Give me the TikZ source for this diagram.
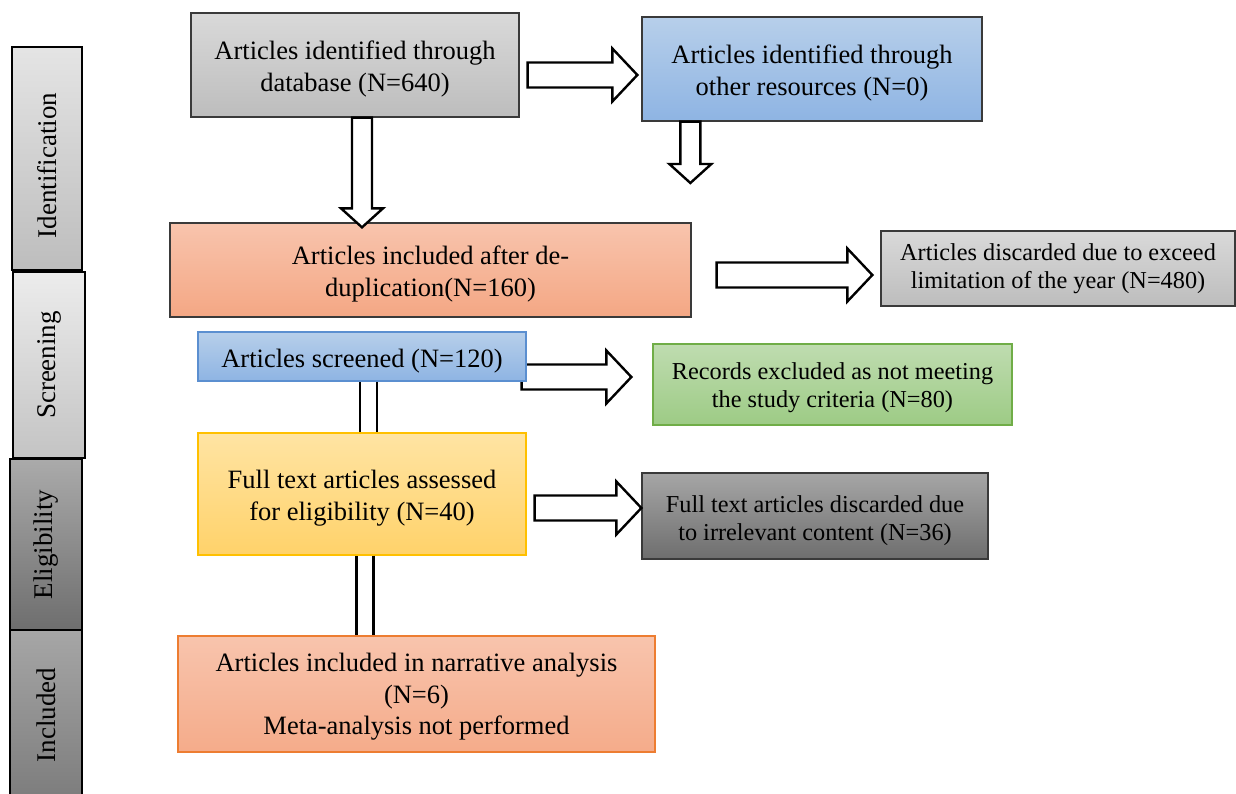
\documentclass[tikz,border=0pt]{standalone}
\usepackage{xcolor}
\usepackage{fontspec}
\setmainfont{Liberation Serif}
\usepackage{tikz}
\usetikzlibrary{calc,positioning}
\pgfdeclarelayer{background}
\pgfsetlayers{background,main}
\definecolor{framegray}{HTML}{3A3A3A}
\definecolor{graytop}{HTML}{D9D9D9}
\definecolor{graybot}{HTML}{BDBDBD}
\definecolor{bluetop}{HTML}{B7CFEA}
\definecolor{bluebot}{HTML}{8EB4E3}
\definecolor{blueline}{HTML}{5B8FD0}
\definecolor{salmtop}{HTML}{F8C4AD}
\definecolor{salmbot}{HTML}{F4A784}
\definecolor{salmline}{HTML}{ED7D31}
\definecolor{greentop}{HTML}{BFDCB0}
\definecolor{greenbot}{HTML}{9DCB85}
\definecolor{greenline}{HTML}{70AD47}
\definecolor{yelltop}{HTML}{FFE4A3}
\definecolor{yellbot}{HTML}{FFD26A}
\definecolor{yellline}{HTML}{FFC000}
\definecolor{darktop}{HTML}{A6A6A6}
\definecolor{darkbot}{HTML}{6E6E6E}
\newcommand{\mainsize}{\fontsize{26.5}{31.5}\selectfont}
\newcommand{\sidesize}{\fontsize{24.3}{28}\selectfont}
\newcommand{\toppad}[1][27pt]{\rule{0pt}{#1}}
\tikzstyle{flowbox}=[rectangle,line width=1.3pt,align=center,inner sep=0pt,font=\mainsize]
\tikzstyle{sidebox}=[flowbox,font=\sidesize]
\tikzstyle{stagebar}=[rectangle,draw=black,line width=1.3pt,inner sep=0pt,
                      font=\fontsize{27}{30}\selectfont]
\tikzstyle{blockarrow}=[draw=black,fill=white,line width=2.4pt,line join=miter]
\tikzstyle{twoline}=[double=white,double distance=14.5pt,line width=2.5pt]
% hollow block arrows, horizontal and downward
\newcommand{\hblock}[2]{%
  \draw[blockarrow] let \p1=(#1), \p2=(#2) in
    (\x1,\y1+12.5pt) -- (\x2-25pt,\y1+12.5pt) -- (\x2-25pt,\y1+26.5pt) -- (\x2,\y1)
    -- (\x2-25pt,\y1-26.5pt) -- (\x2-25pt,\y1-12.5pt) -- (\x1,\y1-12.5pt) -- cycle;}
\newcommand{\vblock}[2]{%
  \draw[blockarrow] let \p1=(#1), \p2=(#2) in
    (\x1-10pt,\y1) -- (\x1-10pt,\y2+19pt) -- (\x1-21pt,\y2+19pt) -- (\x1,\y2)
    -- (\x1+21pt,\y2+19pt) -- (\x1+10pt,\y2+19pt) -- (\x1+10pt,\y1) -- cycle;}

\begin{document}
\begin{tikzpicture}[x=1pt,y=-1pt]
  \useasboundingbox (0,0) rectangle (1236,794);

  % stage bars
  \node[stagebar,top color=graytop!70,bottom color=graybot,minimum width=70pt,minimum height=223pt]
    (ident) at (47,158.5) {\rotatebox{90}{Identification\hspace{14pt}}};
  \node[stagebar,top color=graytop!50,bottom color=graybot!90,minimum width=72pt,minimum height=186pt]
    (screen) at (49,365) {\rotatebox{90}{Screening}};
  \node[stagebar,top color=darktop!95,bottom color=darkbot,minimum width=72pt,minimum height=171pt]
    (elig) at (46,544.5) {\rotatebox{90}{Eligibility}};
  \node[stagebar,top color=darktop,bottom color=darkbot!90,minimum width=72pt,minimum height=170pt]
    (incl) at (46,715) {\rotatebox{90}{Included}};

  % flow boxes
  \node[flowbox,draw=framegray,top color=graytop,bottom color=graybot,minimum width=328pt,minimum height=104pt]
    (db) at (355,65) {\toppad Articles identified through\\database (N=640)};
  \node[flowbox,draw=framegray,top color=bluetop,bottom color=bluebot,minimum width=340pt,minimum height=104pt]
    (other) at (812,69) {\toppad Articles identified through\\other resources (N=0)};
  \node[flowbox,draw=framegray,top color=salmtop,bottom color=salmbot,minimum width=521pt,minimum height=94pt]
    (dedup) at (430.5,270) {\toppad Articles included after de-\\duplication(N=160)};
  \node[sidebox,draw=framegray,top color=graytop,bottom color=graybot,minimum width=354pt,minimum height=75pt]
    (year) at (1058,268.5) {Articles discarded due to exceed\\limitation of the year (N=480)};
  \node[flowbox,draw=blueline,top color=bluetop,bottom color=bluebot,minimum width=328pt,minimum height=49pt]
    (scr) at (362,356.5) {\toppad Articles screened (N=120)};
  \node[sidebox,draw=greenline,top color=greentop,bottom color=greenbot,minimum width=359pt,minimum height=81pt]
    (rec) at (832.5,384.5) {\toppad[23pt]Records excluded as not meeting\\the study criteria (N=80)};
  \node[flowbox,draw=yellline,top color=yelltop,bottom color=yellbot,minimum width=328pt,minimum height=122pt]
    (ft) at (362,494) {\toppad Full text articles assessed\\for eligibility (N=40)};
  \node[sidebox,draw=framegray,top color=darktop,bottom color=darkbot,minimum width=346pt,minimum height=86pt]
    (ftd) at (815,516) {\toppad[26pt]Full text articles discarded due\\to irrelevant content (N=36)};
  \node[flowbox,draw=salmline,top color=salmtop,bottom color=salmbot!95,minimum width=477pt,minimum height=116pt]
    (inc) at (416.5,694) {\toppad[24pt]Articles included in narrative analysis\\(N=6)\\Meta-analysis not performed};

  % connectors
  \coordinate (otherdrop) at (691,183);
  \hblock{[xshift=8pt,yshift=-10pt]db.east}{[xshift=-4pt]other.west}
  \vblock{[xshift=7pt]db.south}{[yshift=-5pt]dedup.north}
  \vblock{[xshift=49pt]other.south west}{otherdrop}
  \hblock{[xshift=25pt,yshift=-5pt]dedup.east}{[xshift=-8pt]year.west}
  \begin{pgfonlayer}{background}
    \hblock{[xshift=-5pt,yshift=-20.5pt]scr.east}{[xshift=-21pt]rec.west}
  \end{pgfonlayer}
  \hblock{[xshift=8pt,yshift=-14pt]ft.east}{ftd.west}
  \draw[twoline] ([xshift=6.5pt]scr.south) -- ([xshift=6.5pt]ft.north);
  \draw[twoline] ([xshift=3pt]ft.south) -- ([xshift=3pt]ft.south |- inc.north);
\end{tikzpicture}
\end{document}
